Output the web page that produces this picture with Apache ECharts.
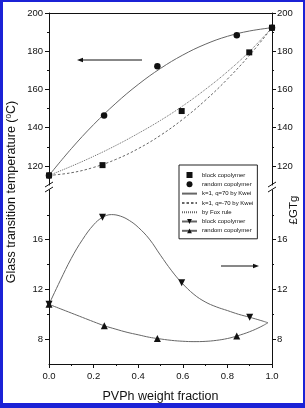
<!DOCTYPE html>
<html>
<head>
<meta charset="UTF-8">
<script src="https://cdn.jsdelivr.net/npm/echarts@6/dist/echarts.min.js"></script>
<style>
body{margin:0;background:#fff}
#wrap{position:relative;width:305px;height:408px}
#chart{width:305px;height:408px}
#frame{position:absolute;left:0;top:0;width:305px;height:408px;box-sizing:border-box;border:solid #1b22d6;border-width:2px 2px 5px 3px;pointer-events:none}
</style>
</head>
<body>
<div id="wrap"><div id="chart"></div><div id="frame"></div></div>
<script>
// model curves for Tg (upper panel), read at these weight fractions
var wFrac = [0, 0.1, 0.2, 0.3, 0.4, 0.5, 0.6, 0.7, 0.8, 0.9, 1.0];
var kweiPlus = [115, 129, 141.6, 152.8, 162.6, 171, 178, 183.6, 187.8, 190.6, 192.3];
var kweiMinus = [115, 116.4, 119.2, 123.4, 129, 136, 144.4, 154.2, 165.4, 178, 192.3];
var foxRule = [115, 119.8, 125, 130.7, 137, 143.8, 151.4, 159.9, 169.3, 180, 192.3];

// measured Tg
var blockX = [0, 0.24, 0.595, 0.898, 1.0];
var blockTg = [115, 120.4, 148.7, 179.4, 192.3];
var randX = [0, 0.247, 0.486, 0.842, 1.0];
var randTg = [115, 146.4, 172.1, 188.3, 192.3];

// delta Tg (lower panel), measured points
var dBlockX = [0, 0.24, 0.595, 0.9];
var dBlock = [10.8, 17.8, 12.54, 9.76];
var dRandX = [0, 0.248, 0.486, 0.842];
var dRand = [10.8, 9.08, 8.05, 8.25];

// fitted curves through them
var fitBlockX = [0, 0.05, 0.1, 0.15, 0.2, 0.24, 0.28, 0.32, 0.36, 0.4, 0.45, 0.5, 0.55, 0.595, 0.65, 0.7, 0.75, 0.8, 0.85, 0.9, 0.95, 0.982];
var fitBlock = [10.8, 12.7, 14.5, 16.0, 17.2, 17.8, 18.02, 17.9, 17.55, 17.0, 16.05, 14.75, 13.5, 12.54, 11.6, 11.0, 10.6, 10.3, 10.0, 9.76, 9.5, 9.32];
var fitRandX = [0, 0.05, 0.1, 0.15, 0.2, 0.248, 0.3, 0.35, 0.4, 0.45, 0.486, 0.55, 0.6, 0.65, 0.7, 0.75, 0.8, 0.842, 0.9, 0.95, 0.982];
var fitRand = [10.8, 10.45, 10.1, 9.75, 9.4, 9.08, 8.8, 8.55, 8.35, 8.15, 8.05, 7.9, 7.83, 7.8, 7.82, 7.9, 8.05, 8.25, 8.6, 9.0, 9.32];

var xTicks = [0, 0.2, 0.4, 0.6, 0.8, 1.0];
var tgTicks = [120, 140, 160, 180, 200];
var tgMinor = [130, 150, 170, 190];
var dTicks = [8, 12, 16];
var dMinor = [10, 14, 18];

var legendText = {
    block: 'block copolymer',
    random: 'random copolymer',
    kweiP: 'k=1, q=70 by Kwei',
    kweiM: 'k=1, q=-70 by Kwei',
    fox: 'by Fox rule',
    dBlock: 'block copolymer',
    dRand: 'random copolymer'
};

function pairs(xs, ys) {
    return xs.map(function (x, i) { return [x, ys[i]]; });
}

var font = 'Liberation Sans, Arial, sans-serif';
var black = '#111';
var curveColor = '#666';

function yAx(grid, pos, min, max, vals, len, labels, line) {
    return {
        type: 'value', gridIndex: grid, position: pos, min: min, max: max,
        axisLine: {show: line, lineStyle: {color: black, width: 1}},
        axisTick: {show: true, length: len, customValues: vals, lineStyle: {color: black}},
        axisLabel: {show: labels, customValues: vals, margin: pos == 'left' ? 6 : 5,
            fontSize: 9.5, fontFamily: font, color: black},
        splitLine: {show: false}
    };
}

var chart = echarts.init(document.getElementById('chart'));
var option = {
    animation: false,
    grid: [
        {left: 49, right: 33, top: 13, height: 172},
        {left: 49, right: 33, top: 190, height: 174}
    ],
    xAxis: [
        {type: 'value', gridIndex: 0, min: 0, max: 1, position: 'top',
            axisLine: {lineStyle: {color: black}}, axisTick: {show: false},
            axisLabel: {show: false}, splitLine: {show: false}},
        {type: 'value', gridIndex: 1, min: 0, max: 1, interval: 0.2, position: 'bottom',
            axisLine: {lineStyle: {color: black}},
            axisTick: {length: 4, lineStyle: {color: black}},
            minorTick: {show: true, splitNumber: 2, length: 2, lineStyle: {color: black}},
            axisLabel: {margin: 7, fontSize: 9.5, fontFamily: font, color: black,
                formatter: function (v) { return v.toFixed(1); }},
            splitLine: {show: false},
            name: 'PVPh weight fraction', nameLocation: 'middle', nameGap: 26,
            nameTextStyle: {fontSize: 12.5, fontFamily: font, color: black}}
    ],
    yAxis: [
        yAx(0, 'left', 110, 200, tgTicks, 4, true, true),
        yAx(0, 'left', 110, 200, tgMinor, 2, false, false),
        yAx(0, 'right', 110, 200, tgTicks, 4, true, true),
        yAx(0, 'right', 110, 200, tgMinor, 2, false, false),
        yAx(1, 'left', 6, 20, dTicks, 4, true, true),
        yAx(1, 'left', 6, 20, dMinor, 2, false, false),
        yAx(1, 'right', 6, 20, dTicks, 4, true, true),
        yAx(1, 'right', 6, 20, dMinor, 2, false, false)
    ],
    legend: {
        orient: 'vertical', left: 179, top: 165,
        itemWidth: 15, itemHeight: 6, itemGap: 3.3,
        padding: [7, 4, 5, 2],
        borderColor: '#222', borderWidth: 1, backgroundColor: '#fff',
        textStyle: {fontSize: 6, fontFamily: font, color: black},
        formatter: function (n) { return legendText[n]; },
        data: [
            {name: 'block', icon: 'path://M0,0H10V10H0Z'},
            {name: 'random', icon: 'circle'},
            'kweiP', 'kweiM', 'fox', 'dBlock', 'dRand'
        ]
    },
    series: [
        {name: 'kweiP', type: 'line', xAxisIndex: 0, yAxisIndex: 0, data: pairs(wFrac, kweiPlus),
            smooth: 0.4, symbol: 'none', itemStyle: {color: 'rgba(0,0,0,0)'},
            lineStyle: {color: curveColor, width: 1}},
        {name: 'kweiM', type: 'line', xAxisIndex: 0, yAxisIndex: 0, data: pairs(wFrac, kweiMinus),
            smooth: 0.4, symbol: 'none', itemStyle: {color: 'rgba(0,0,0,0)'},
            lineStyle: {color: curveColor, width: 1, type: [2.5, 2]}},
        {name: 'fox', type: 'line', xAxisIndex: 0, yAxisIndex: 0, data: pairs(wFrac, foxRule),
            smooth: 0.4, symbol: 'none', itemStyle: {color: 'rgba(0,0,0,0)'},
            lineStyle: {color: curveColor, width: 1, type: [1, 1]}},
        {name: 'block', type: 'scatter', xAxisIndex: 0, yAxisIndex: 0, data: pairs(blockX, blockTg),
            symbol: 'rect', symbolSize: 6, itemStyle: {color: black, opacity: 1}, z: 5},
        {name: 'random', type: 'scatter', xAxisIndex: 0, yAxisIndex: 0, data: pairs(randX, randTg),
            symbol: 'circle', symbolSize: 6.5, itemStyle: {color: black, opacity: 1}, z: 5},
        {name: 'dBlock', type: 'line', xAxisIndex: 1, yAxisIndex: 4, data: pairs(fitBlockX, fitBlock),
            smooth: 0.4, showSymbol: false, symbol: 'triangle', symbolRotate: 180,
            itemStyle: {color: black}, lineStyle: {color: curveColor, width: 1}},
        {name: 'dRand', type: 'line', xAxisIndex: 1, yAxisIndex: 4, data: pairs(fitRandX, fitRand),
            smooth: 0.4, showSymbol: false, symbol: 'triangle',
            itemStyle: {color: black}, lineStyle: {color: curveColor, width: 1}},
        {name: 'dBlockPts', type: 'scatter', xAxisIndex: 1, yAxisIndex: 4, data: pairs(dBlockX, dBlock),
            symbol: 'triangle', symbolRotate: 180, symbolSize: 7, itemStyle: {color: black, opacity: 1}, z: 5},
        {name: 'dRandPts', type: 'scatter', xAxisIndex: 1, yAxisIndex: 4, data: pairs(dRandX, dRand),
            symbol: 'triangle', symbolSize: 7, itemStyle: {color: black, opacity: 1}, z: 5}
    ],
    graphic: [
        {type: 'text', x: 12, y: 192, rotation: Math.PI / 2,
            style: {text: '{a|Glass transition temperature (}{s|0}{a|C)}', align: 'center', verticalAlign: 'middle',
                rich: {a: {fontSize: 12.5, fontFamily: font, fill: black},
                       s: {fontSize: 8, fontFamily: font, fill: black, verticalAlign: 'top', padding: [0, 0, 6, 0]}}}},
        {type: 'text', x: 294, y: 210, rotation: Math.PI / 2,
            style: {text: '£GTg', align: 'center', verticalAlign: 'middle', fontSize: 11.5, fontFamily: font, fill: black}},
        // axis break marks
        {type: 'line', shape: {x1: 45, y1: 187, x2: 53, y2: 182}, style: {stroke: black, lineWidth: 1}},
        {type: 'line', shape: {x1: 45, y1: 192, x2: 53, y2: 187}, style: {stroke: black, lineWidth: 1}},
        {type: 'line', shape: {x1: 268, y1: 187, x2: 276, y2: 182}, style: {stroke: black, lineWidth: 1}},
        {type: 'line', shape: {x1: 268, y1: 192, x2: 276, y2: 187}, style: {stroke: black, lineWidth: 1}},
        // arrows pointing to the axes
        {type: 'line', shape: {x1: 142, y1: 60, x2: 80, y2: 60}, style: {stroke: black, lineWidth: 1}},
        {type: 'polygon', shape: {points: [[77, 60], [83, 57.8], [83, 62.2]]}, style: {fill: black}},
        {type: 'line', shape: {x1: 221, y1: 266, x2: 256, y2: 266}, style: {stroke: black, lineWidth: 1}},
        {type: 'polygon', shape: {points: [[259, 266], [253, 263.8], [253, 268.2]]}, style: {fill: black}}
    ]
};
chart.setOption(option);
</script>
</body>
</html>
